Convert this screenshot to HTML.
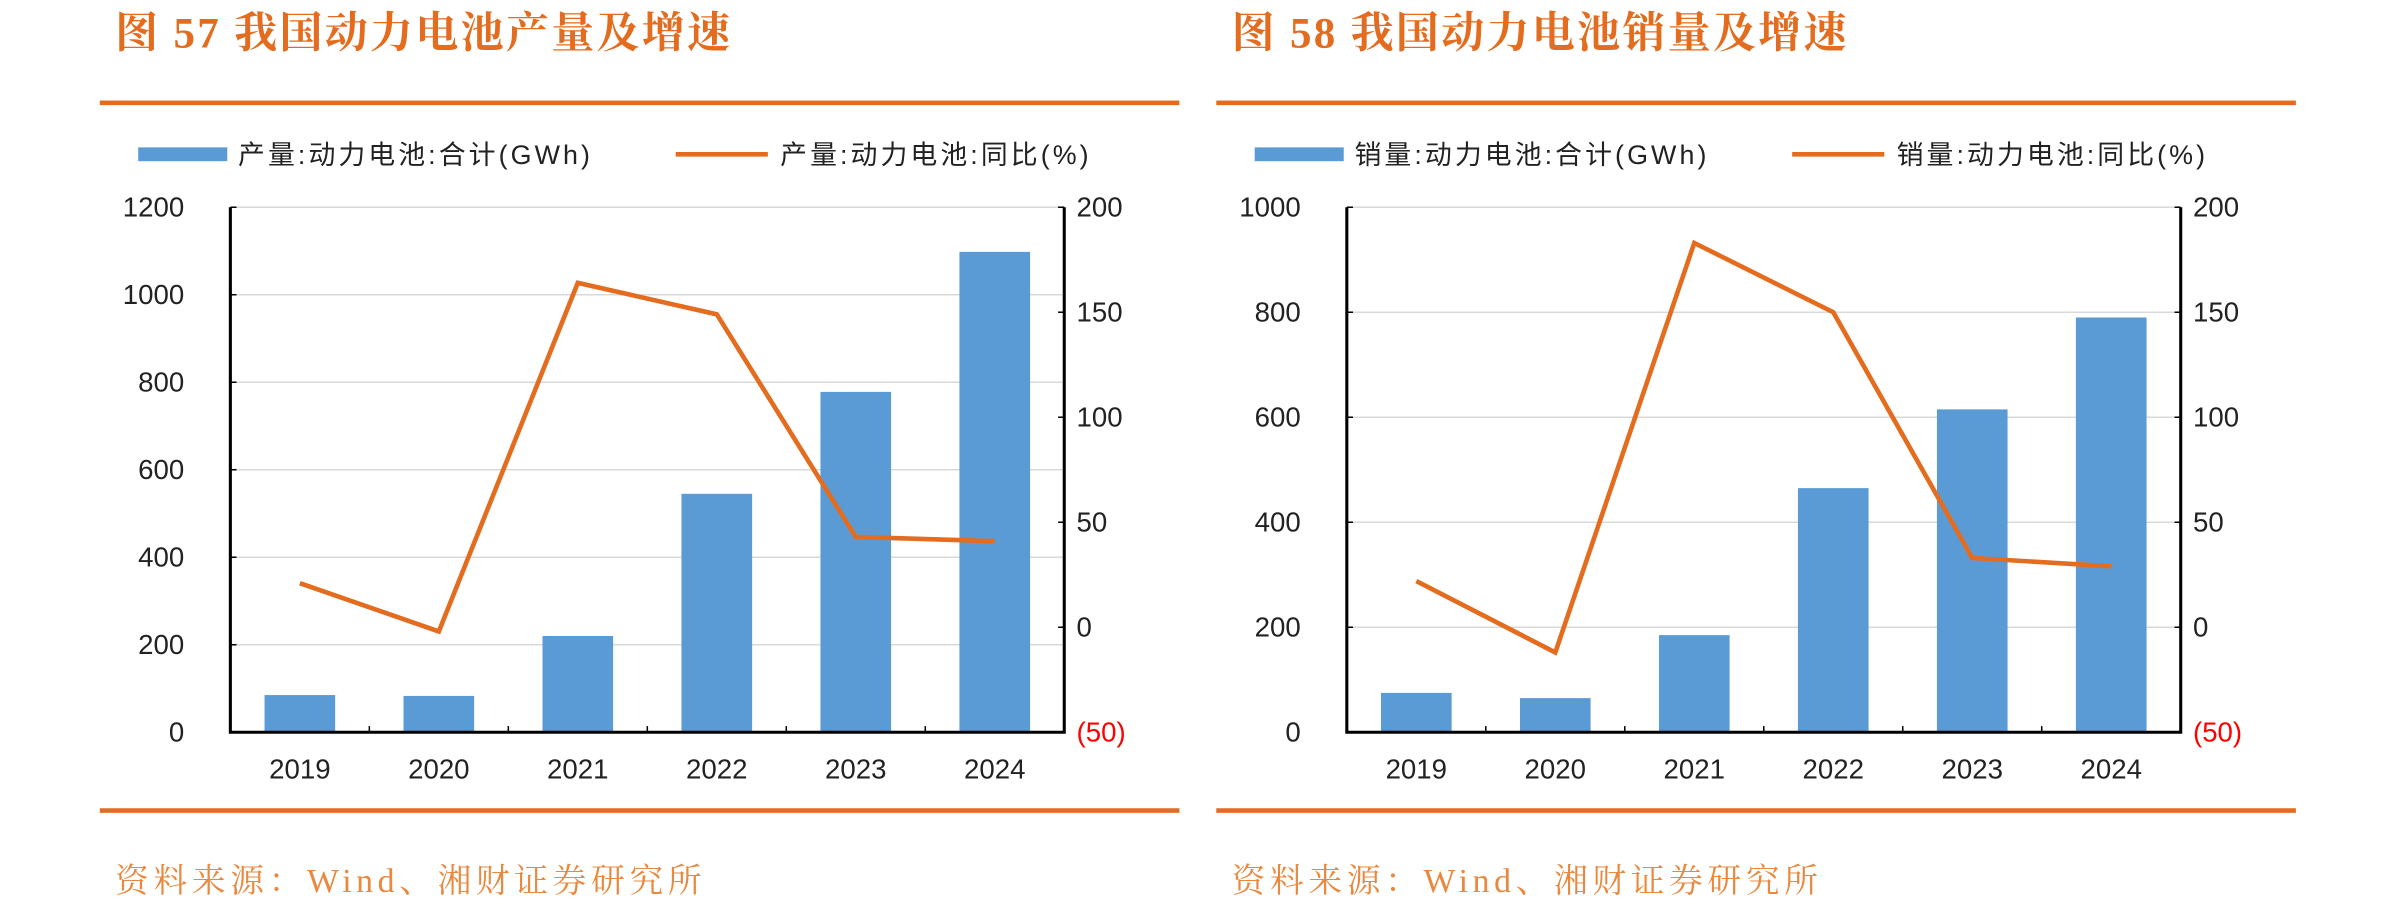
<!DOCTYPE html>
<html><head><meta charset="utf-8"><style>
html,body{margin:0;padding:0;background:#fff;width:2408px;height:918px;overflow:hidden}
svg{display:block}
.t{font-family:"Liberation Serif","Noto Serif CJK SC",serif;font-weight:bold;fill:#E36C1F;font-size:28px;letter-spacing:1.5px}
.src{font-family:"Liberation Serif","Noto Serif CJK SC",serif;fill:#E8893F;font-size:22px;letter-spacing:3px}
.lg{font-family:"Liberation Sans","Noto Sans CJK SC",sans-serif;font-size:17.5px;fill:#222;letter-spacing:2px}
.tk{font-family:"Liberation Sans","Noto Sans CJK SC",sans-serif;font-size:18px;fill:#222}
</style></head><body>
<svg id="svg" width="2408" height="918" viewBox="0 0 1568 598" preserveAspectRatio="none"></svg>
<script>
const years = ['2019','2020','2021','2022','2023','2024'];
const prodVals = [85, 83, 220, 545, 778, 1098];
const prodYoY = [21, -2, 164, 149, 43, 41];
const salesVals = [75, 65, 185, 465, 615, 790];
const salesYoY = [22, -12, 183, 150, 33, 29];
const prodLeftTicks = [0,200,400,600,800,1000,1200];
const salesLeftTicks = [0,200,400,600,800,1000];
const rightTicks = [-50,0,50,100,150,200];
const rightTickLabels = ['(50)','0','50','100','150','200'];

const NS='http://www.w3.org/2000/svg';
const svg=document.getElementById('svg');
function mk(tag,attrs,parent,text){const e=document.createElementNS(NS,tag);for(const k in attrs)e.setAttribute(k,attrs[k]);if(text!==undefined)e.textContent=text;(parent||svg).appendChild(e);return e;}

function chart(ox,id,title,legA,legB,vals,yoy,leftTicks,lmax){
  const g=mk('g',{});
  
  
  const t=mk('text',{x:ox+10,y:31,class:'t'},g,title);
  
  
  const r1=mk('rect',{x:ox,y:65.5,width:703,height:3,fill:'#E36C1F'},g);
  
  
  const r2=mk('rect',{x:ox,y:526.5,width:703,height:3,fill:'#E36C1F'},g);
  
  
  const s=mk('text',{x:ox+10,y:581,class:'src'},g,'资料来源：Wind、湘财证券研究所');
  
  
  const lb=mk('rect',{x:ox+25,y:96,width:58,height:9,fill:'#5B9BD5'},g);
  
  
  const lt=mk('text',{x:ox+90,y:107,class:'lg'},g,legA);
  
  
  const ll=mk('line',{x1:ox+375,x2:ox+435,y1:100.5,y2:100.5,stroke:'#E36C1F','stroke-width':3},g);
  
  
  const lt2=mk('text',{x:ox+443,y:107,class:'lg'},g,legB);
  
  
  const L=ox+85,R=ox+628,T=135,B=477;
  const yl=v=>B-(v/lmax)*(B-T);
  const yr=v=>B-((v+50)/250)*(B-T);
  const bw=(R-L)/years.length;
  leftTicks.forEach(v=>{
    if(v>0){const gl=mk('line',{x1:L,x2:R,y1:yl(v),y2:yl(v),stroke:'#d9d9d9','stroke-width':1},g);
    
    }
    const tk=mk('line',{x1:L,x2:L+4,y1:yl(v),y2:yl(v),stroke:'#000'},g);
    
    
    const tl=mk('text',{x:L-30,y:yl(v)+6,class:'tk','text-anchor':'end'},g,String(v));
    
    
  });
  rightTicks.forEach((v,i)=>{
    const tk=mk('line',{x1:R-4,x2:R,y1:yr(v),y2:yr(v),stroke:'#000'},g);
    
    
    const tl=mk('text',{x:R+8,y:yr(v)+6,class:'tk',style:v<0?'fill:#FF0000':''},g,rightTickLabels[i]);
    
    
  });
  vals.forEach((v,i)=>{
    const b=mk('rect',{x:L+bw*i+bw/2-23,y:yl(v),width:46,height:B-yl(v),fill:'#5B9BD5'},g);
    
    
    const xl=mk('text',{x:L+bw*i+bw/2,y:507,class:'tk','text-anchor':'middle'},g,years[i]);
    
    
    if(i>0){const xt=mk('line',{x1:L+bw*i,x2:L+bw*i,y1:B,y2:B-4,stroke:'#000'},g);
    
    }
  });
  const ax=mk('path',{d:`M${L},${T} V${B} H${R} V${T}`,fill:'none',stroke:'#000','stroke-width':2},g);
  
  
  const pts=yoy.map((v,i)=>`${L+bw*i+bw/2},${yr(v)}`).join(' ');
  const pl=mk('polyline',{points:pts,fill:'none',stroke:'#E36C1F','stroke-width':3},g);
  
  
}
chart(65,'production','图 57 我国动力电池产量及增速','产量:动力电池:合计(GWh)','产量:动力电池:同比(%)',prodVals,prodYoY,prodLeftTicks,1200);
chart(792,'sales','图 58 我国动力电池销量及增速','销量:动力电池:合计(GWh)','销量:动力电池:同比(%)',salesVals,salesYoY,salesLeftTicks,1000);
</script>
</body></html>
